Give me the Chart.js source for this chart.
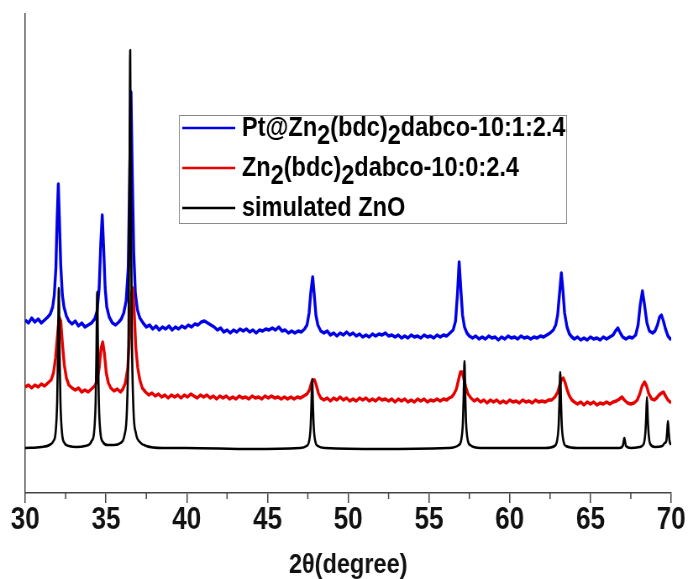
<!DOCTYPE html>
<html>
<head>
<meta charset="utf-8">
<script src="https://cdn.jsdelivr.net/npm/chart.js@4.4.1/dist/chart.umd.min.js"></script>
<style>
  html, body { margin: 0; padding: 0; background: #fff; overflow: hidden; }
  /* the figure is drawn wide and narrowed horizontally, like the original export */
  #wrap { position: absolute; left: 0; top: 0; width: 819px; height: 579px;
          transform: scaleX(0.84); transform-origin: 0 0; }
</style>
</head>
<body>
<div id="wrap"><canvas id="xrd" width="819" height="579"></canvas></div>
<script>
// 2θ axis
const xMajorTicks = [30, 35, 40, 45, 50, 55, 60, 65, 70];
const xMinorTicks = [32.5, 37.5, 42.5, 47.5, 52.5, 57.5, 62.5, 67.5];

// legend entries (text pieces; true = subscript)
const seriesLabels = [
  [['Pt@Zn', false], ['2', true], ['(bdc)', false], ['2', true], ['dabco-10:1:2.4', false]],
  [['Zn', false], ['2', true], ['(bdc)', false], ['2', true], ['dabco-10:0:2.4', false]],
  [['simulated ZnO', false]]
];
const seriesColors = ['#0000e6', '#e60000', '#000000'];

// Pt@Zn2(bdc)2dabco-10:1:2.4, [2θ, intensity a.u.] (offset trace)
const ptTrace = [
  [30.0,173],[30.2,170],[30.4,175],[30.6,171],[30.8,174],[31.0,170],[31.2,173],[31.4,176],[31.55,179],
  [31.7,186],[31.8,198],[31.9,225],[31.97,270],[32.05,309],[32.12,272],[32.2,228],[32.3,198],[32.4,186],
  [32.55,177],[32.7,172],[32.9,169],[33.1,172],[33.3,167],[33.5,170],[33.7,166],[33.9,168],[34.1,170],
  [34.3,174],[34.45,182],[34.58,205],[34.68,250],[34.77,278],[34.85,248],[34.95,205],[35.05,186],[35.2,176],
  [35.4,170],[35.6,168],[35.8,171],[35.95,174],[36.1,180],[36.25,192],[36.38,225],[36.47,320],[36.55,401],
  [36.63,318],[36.72,240],[36.82,200],[36.95,183],[37.1,175],[37.3,170],[37.5,166],[37.7,168],[37.9,164],
  [38.1,167],[38.3,163],[38.5,166],[38.7,164],[38.9,167],[39.1,163],[39.3,166],[39.5,164],[39.7,167],
  [39.9,165],[40.1,168],[40.3,166],[40.5,169],[40.7,168],[40.9,171],[41.1,172],[41.3,170],[41.5,168],
  [41.7,166],[41.9,163],[42.1,165],[42.3,161],[42.5,163],[42.7,160],[42.9,163],[43.1,161],[43.3,164],
  [43.5,162],[43.7,164],[43.9,161],[44.1,163],[44.3,160],[44.5,163],[44.7,162],[44.9,164],[45.1,163],
  [45.3,165],[45.5,163],[45.7,166],[45.9,162],[46.1,163],[46.3,160],[46.5,162],[46.7,160],[46.9,162],
  [47.1,161],[47.3,164],[47.45,168],[47.58,180],[47.68,200],[47.8,216],[47.9,198],[48.0,178],[48.12,168],
  [48.3,162],[48.5,160],[48.7,162],[48.9,158],[49.1,160],[49.3,157],[49.5,160],[49.7,158],[49.9,161],
  [50.1,158],[50.3,160],[50.5,157],[50.7,159],[50.9,156],[51.1,158],[51.3,156],[51.5,159],[51.7,157],
  [51.9,159],[52.1,158],[52.3,160],[52.5,157],[52.7,158],[52.9,156],[53.1,158],[53.3,155],[53.5,157],
  [53.7,155],[53.9,158],[54.1,156],[54.3,157],[54.5,155],[54.7,158],[54.9,156],[55.1,157],[55.3,155],
  [55.5,158],[55.7,156],[55.9,158],[56.1,157],[56.3,160],[56.5,163],[56.65,172],[56.77,200],[56.87,231],
  [56.97,205],[57.08,178],[57.2,166],[57.35,160],[57.5,157],[57.7,155],[57.9,157],[58.1,154],[58.3,156],
  [58.5,154],[58.7,157],[58.9,155],[59.1,156],[59.3,153],[59.5,156],[59.7,154],[59.9,157],[60.1,155],
  [60.3,156],[60.5,154],[60.7,157],[60.9,155],[61.1,156],[61.3,154],[61.5,156],[61.7,155],[61.9,157],
  [62.1,156],[62.3,158],[62.5,160],[62.7,163],[62.85,168],[62.97,178],[63.08,198],[63.2,220],[63.3,202],
  [63.4,180],[63.55,166],[63.7,159],[63.85,156],[64.0,154],[64.2,156],[64.4,153],[64.6,155],[64.8,153],
  [65.0,156],[65.2,154],[65.4,155],[65.6,153],[65.8,156],[66.0,154],[66.2,156],[66.4,158],[66.55,162],
  [66.7,165],[66.85,160],[67.0,156],[67.2,154],[67.4,156],[67.6,155],[67.8,158],[67.95,168],[68.08,188],
  [68.22,202],[68.35,188],[68.5,170],[68.65,162],[68.85,160],[69.0,162],[69.15,168],[69.28,176],[69.4,178],
  [69.52,172],[69.65,164],[69.8,157],[70.0,153]
];

// Zn2(bdc)2dabco-10:0:2.4, [2θ, intensity a.u.] (offset trace)
const znTrace = [
  [30.0,106],[30.2,108],[30.4,105],[30.6,108],[30.8,106],[31.0,109],[31.2,107],[31.4,110],[31.6,113],
  [31.75,120],[31.88,135],[32.0,158],[32.1,176],[32.2,172],[32.3,150],[32.42,128],[32.55,115],[32.7,108],
  [32.9,105],[33.1,103],[33.3,105],[33.5,101],[33.7,103],[33.9,101],[34.1,104],[34.3,107],[34.45,112],
  [34.58,125],[34.7,145],[34.8,151],[34.9,140],[35.02,120],[35.15,110],[35.3,105],[35.5,102],[35.7,104],
  [35.9,101],[36.05,104],[36.2,110],[36.35,125],[36.48,160],[36.58,200],[36.66,205],[36.75,180],[36.85,145],
  [36.97,125],[37.1,113],[37.25,105],[37.45,101],[37.65,98],[37.85,100],[38.05,97],[38.25,99],[38.45,96],
  [38.65,98],[38.85,95],[39.05,98],[39.25,96],[39.45,98],[39.65,95],[39.85,98],[40.05,96],[40.25,99],
  [40.45,97],[40.65,95],[40.85,98],[41.05,96],[41.25,98],[41.45,95],[41.65,97],[41.85,94],[42.05,97],
  [42.25,95],[42.45,97],[42.65,94],[42.85,96],[43.05,94],[43.25,97],[43.45,95],[43.65,96],[43.85,94],
  [44.05,97],[44.25,95],[44.45,96],[44.65,94],[44.85,97],[45.05,95],[45.25,97],[45.45,95],[45.65,96],
  [45.85,94],[46.05,96],[46.25,94],[46.45,96],[46.65,94],[46.85,96],[47.05,95],[47.25,97],[47.45,99],
  [47.6,103],[47.72,110],[47.82,113],[47.92,113],[48.02,108],[48.15,100],[48.3,95],[48.5,93],[48.7,95],
  [48.9,92],[49.1,95],[49.3,93],[49.5,96],[49.7,93],[49.9,95],[50.1,92],[50.3,94],[50.5,92],[50.7,95],
  [50.9,93],[51.1,95],[51.3,92],[51.5,94],[51.7,92],[51.9,95],[52.1,93],[52.3,94],[52.5,92],[52.7,94],
  [52.9,91],[53.1,94],[53.3,92],[53.5,94],[53.7,91],[53.9,93],[54.1,91],[54.3,94],[54.5,92],[54.7,94],
  [54.9,91],[55.1,93],[55.3,92],[55.5,94],[55.7,92],[55.9,94],[56.1,93],[56.25,95],[56.4,96],[56.55,99],
  [56.7,104],[56.83,113],[56.95,121],[57.05,121],[57.15,115],[57.28,106],[57.42,99],[57.6,95],[57.8,92],
  [58.0,94],[58.2,91],[58.4,93],[58.6,90],[58.8,93],[59.0,91],[59.2,93],[59.4,90],[59.6,92],[59.8,90],
  [60.0,93],[60.2,91],[60.4,92],[60.6,90],[60.8,93],[61.0,91],[61.2,92],[61.4,90],[61.6,93],[61.8,91],
  [62.0,92],[62.2,91],[62.4,93],[62.6,93],[62.8,96],[62.98,101],[63.1,108],[63.22,114],[63.32,115],
  [63.44,110],[63.56,103],[63.7,97],[63.85,93],[64.0,91],[64.2,89],[64.4,91],[64.6,88],[64.8,91],[65.0,89],
  [65.2,91],[65.4,88],[65.6,90],[65.8,89],[66.0,91],[66.2,89],[66.4,91],[66.6,92],[66.8,94],[66.95,96],
  [67.1,93],[67.3,90],[67.5,89],[67.7,90],[67.9,93],[68.05,99],[68.2,107],[68.35,111],[68.48,107],
  [68.62,99],[68.8,94],[68.95,93],[69.1,95],[69.25,98],[69.4,100],[69.52,101],[69.65,97],[69.8,93],[70.0,90]
];

// simulated ZnO pattern, [2θ, intensity a.u.]
const znoTrace = [
  [30.0,45],[31.0,46],[31.5,48],[31.75,52],[31.88,60],[31.98,92],[32.03,140],[32.08,205],[32.13,140],
  [32.18,92],[32.28,60],[32.43,50],[32.7,47],[33.2,46],[33.7,47],[34.0,49],[34.11,52],[34.26,60],
  [34.36,91],[34.41,138],[34.46,201],[34.51,138],[34.56,91],[34.66,60],[34.81,51],[35.1,48],[35.5,48],
  [35.9,50],[36.15,58],[36.3,84],[36.4,164],[36.45,283],[36.5,443],[36.55,283],[36.6,164],[36.7,84],
  [36.85,60],[37.1,51],[37.5,47],[38.5,45],[40.0,45],[44.0,44],[47.0,45],[47.42,47],[47.57,51],
  [47.67,65],[47.72,86],[47.77,114],[47.82,86],[47.87,65],[47.97,51],[48.12,47],[48.6,45],[52.0,44],
  [56.2,45],[56.85,48],[57.0,53],[57.1,70],[57.15,97],[57.2,132],[57.25,97],[57.3,70],[57.4,53],
  [57.55,48],[58.2,45],[62.2,45],[62.78,47],[62.93,52],[63.03,67],[63.08,90],[63.13,121],[63.18,90],
  [63.23,67],[63.33,52],[63.48,47],[64.2,45],[66.8,45],[67.0,47],[67.05,51],[67.1,55],[67.15,51],
  [67.2,47],[67.5,45],[68.05,46],[68.3,49],[68.4,60],[68.45,75],[68.5,96],[68.55,75],[68.6,60],
  [68.7,49],[69.0,46],[69.45,47],[69.6,50],[69.7,52],[69.75,61],[69.8,72],[69.85,61],[69.9,52],[70.0,48]
];

const toPoints = arr => arr.map(([x, y]) => ({ x, y }));
const FONT = "'Liberation Sans', Arial, Helvetica, sans-serif";

// minor ticks on the 2θ axis
const minorTickPlugin = {
  id: 'minorTicks',
  afterDraw(chart) {
    const { ctx, chartArea, scales: { x } } = chart;
    ctx.save();
    ctx.strokeStyle = '#444';
    ctx.lineWidth = 1.5;
    xMinorTicks.forEach(v => {
      const px = x.getPixelForValue(v);
      ctx.beginPath();
      ctx.moveTo(px, chartArea.bottom);
      ctx.lineTo(px, chartArea.bottom + 6);
      ctx.stroke();
    });
    ctx.restore();
  }
};

// boxed legend with subscripted formulas
const formulaLegendPlugin = {
  id: 'formulaLegend',
  afterDatasetsDraw(chart, args, opts) {
    const { ctx } = chart;
    const box = opts.box;
    ctx.save();
    ctx.fillStyle = '#fff';
    ctx.fillRect(box.x, box.y, box.w, box.h);
    ctx.strokeStyle = '#8a8a8a';
    ctx.lineWidth = 1;
    ctx.strokeRect(box.x + 0.5, box.y + 0.5, box.w, box.h);
    ctx.font = 'bold ' + opts.fontSize + 'px ' + FONT;
    ctx.textBaseline = 'middle';
    seriesLabels.forEach((pieces, i) => {
      const y = box.y + opts.firstRow + i * opts.rowGap;
      ctx.strokeStyle = seriesColors[i];
      ctx.lineWidth = 2.5;
      ctx.beginPath();
      ctx.moveTo(box.x + opts.lineStart, y);
      ctx.lineTo(box.x + opts.lineEnd, y);
      ctx.stroke();
      let tx = box.x + opts.textStart;
      ctx.fillStyle = '#000';
      pieces.forEach(([txt, sub]) => {
        ctx.fillText(txt, tx, sub ? y + opts.subShift : y);
        tx += ctx.measureText(txt).width;
      });
    });
    ctx.restore();
  }
};

new Chart(document.getElementById('xrd'), {
  type: 'line',
  data: {
    datasets: [
      { data: toPoints(ptTrace), borderColor: seriesColors[0], borderWidth: 3.4, order: 3 },
      { data: toPoints(znTrace), borderColor: seriesColors[1], borderWidth: 3.4, order: 2 },
      { data: toPoints(znoTrace), borderColor: seriesColors[2], borderWidth: 2.6, order: 1,
        cubicInterpolationMode: 'monotone' }
    ]
  },
  options: {
    responsive: false,
    animation: false,
    devicePixelRatio: 1,
    parsing: false,
    elements: { point: { radius: 0 }, line: { tension: 0, fill: false, borderJoinStyle: 'round' } },
    layout: { padding: { left: 30, right: 20, top: 14, bottom: 0 } },
    plugins: {
      legend: { display: false },
      tooltip: { enabled: false },
      formulaLegend: {
        box: { x: 213, y: 115, w: 461, h: 108 },
        firstRow: 13, rowGap: 40,
        lineStart: 4, lineEnd: 67, textStart: 75,
        fontSize: 28, subShift: 8
      }
    },
    scales: {
      x: {
        type: 'linear', min: 30, max: 70,
        afterBuildTicks: s => { s.ticks = xMajorTicks.map(v => ({ value: v })); },
        afterFit: s => { s.height = 86; },
        ticks: {
          autoSkip: false, maxRotation: 0, padding: 2, color: '#111',
          font: { family: FONT, size: 31, weight: 'bold', lineHeight: 1 }
        },
        grid: { display: true, drawOnChartArea: false, drawTicks: true, tickLength: 10,
                tickColor: '#444', tickWidth: 1.5, lineWidth: 1.5 },
        border: { display: true, color: '#444', width: 1.5 },
        title: { display: true, text: '2θ(degree)', color: '#111', padding: 0,
                 font: { family: FONT, size: 28, weight: 'bold', lineHeight: 1 } }
      },
      y: {
        min: 0, max: 479,
        afterFit: s => { s.width = 0; },
        ticks: { display: false },
        grid: { display: false },
        border: { display: true, color: '#444', width: 1.5 }
      }
    }
  },
  plugins: [minorTickPlugin, formulaLegendPlugin]
});
</script>
</body>
</html>
